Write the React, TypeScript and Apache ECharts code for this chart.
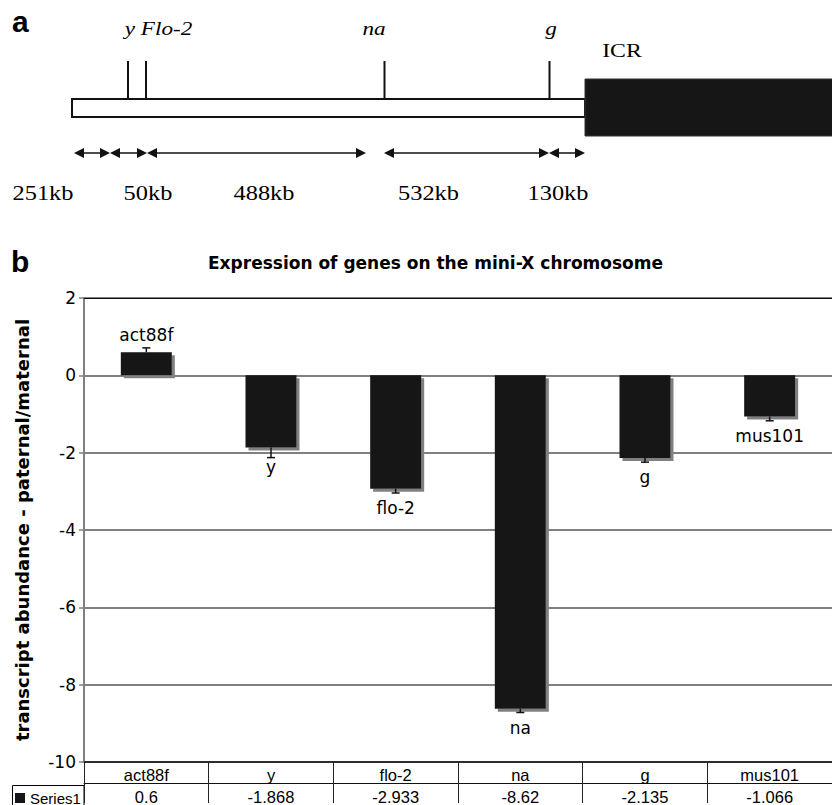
import React, { useEffect, useRef } from "react";
import * as echarts from "echarts";

// ---- data ----
const categories = ["act88f", "y", "flo-2", "na", "g", "mus101"];
const values = [0.6, -1.868, -2.933, -8.62, -2.135, -1.066];
const errors = [0.11, 0.26, 0.11, 0.1, 0.11, 0.11];
const seriesName = "Series1";
const yMin = -10;
const yMax = 2;
const yStep = 2;

// ---- schematic (panel a) ----
const geneLabels = ["y Flo-2", "na", "g"];
const regionLabel = "ICR";
const segmentLabels = ["251kb", "50kb", "488kb", "532kb", "130kb"];

const chartTitle = "Expression of genes on the mini-X chromosome";
const yAxisTitle = "transcript abundance - paternal/maternal";

const SERIF = "'Liberation Serif', 'Times New Roman', serif";
const SANS = "'DejaVu Sans', sans-serif";
const ARIAL = "'Liberation Sans', Arial, sans-serif";

function buildSchematic(): any[] {
  const els: any[] = [];
  const stretch = 1.22;
  // panel letters
  els.push({ type: "text", x: 12, y: 21.6, style: { text: "a", fontSize: 30, fontWeight: "bold", fontFamily: ARIAL, fill: "#000", align: "left", verticalAlign: "middle" } });
  els.push({ type: "text", x: 11, y: 261.6, style: { text: "b", fontSize: 30, fontWeight: "bold", fontFamily: ARIAL, fill: "#000", align: "left", verticalAlign: "middle" } });

  // chromosome bar
  els.push({ type: "rect", shape: { x: 72, y: 99, width: 513, height: 18 }, style: { fill: "#fff", stroke: "#111", lineWidth: 2 } });
  // ICR block
  els.push({ type: "rect", shape: { x: 585, y: 79, width: 250, height: 57 }, style: { fill: "#161616", stroke: "#333", lineWidth: 1 } });
  // gene tick lines
  const ticks = [128, 146, 384.5, 549.5];
  ticks.forEach((tx) => {
    els.push({ type: "line", shape: { x1: tx, y1: 61, x2: tx, y2: 98 }, style: { stroke: "#111", lineWidth: 2 } });
  });
  // gene labels
  const geneX = [158.5, 374, 551];
  geneLabels.forEach((t, i) => {
    els.push({ type: "text", x: geneX[i], y: 28.6, scaleX: stretch, style: { text: t, fontSize: 19, fontStyle: "italic", fontFamily: SERIF, fill: "#000", align: "center", verticalAlign: "middle" } });
  });
  els.push({ type: "text", x: 622, y: 50.5, scaleX: stretch, style: { text: regionLabel, fontSize: 19.5, fontFamily: SERIF, fill: "#000", align: "center", verticalAlign: "middle" } });

  // double arrows
  const segs = [[74, 110], [110, 147], [147, 366], [384, 549], [549, 585]];
  const ay = 153;
  segs.forEach(([x1, x2]) => {
    els.push({ type: "line", shape: { x1: x1 + 6, y1: ay, x2: x2 - 6, y2: ay }, style: { stroke: "#111", lineWidth: 1.5 } });
    els.push({ type: "polygon", shape: { points: [[x1, ay], [x1 + 10, ay - 5], [x1 + 10, ay + 5]] }, style: { fill: "#111" } });
    els.push({ type: "polygon", shape: { points: [[x2, ay], [x2 - 10, ay - 5], [x2 - 10, ay + 5]] }, style: { fill: "#111" } });
  });
  const segX = [43, 148, 264, 428.5, 558];
  segmentLabels.forEach((t, i) => {
    els.push({ type: "text", x: segX[i], y: 193.2, scaleX: stretch, style: { text: t, fontSize: 20, fontFamily: SERIF, fill: "#000", align: "center", verticalAlign: "middle" } });
  });

  // Series1 cell border of the data table
  els.push({ type: "rect", shape: { x: 12.5, y: 785.5, width: 71.5, height: 22 }, style: { fill: "none", stroke: "#000", lineWidth: 1 } });
  return els;
}

export default function App() {
  const ref = useRef<HTMLDivElement>(null);

  useEffect(() => {
    if (!ref.current) return;
    const chart = echarts.init(ref.current, null, { renderer: "svg" });

    const option: any = {
      animation: false,
      backgroundColor: "#fff",
      title: {
        text: chartTitle,
        left: 208,
        top: 254,
        padding: 0,
        textStyle: { fontFamily: SANS, fontSize: 17, fontWeight: "bold", color: "#000" },
      },
      legend: {
        data: [seriesName],
        left: 15,
        top: 790.5,
        padding: 0,
        icon: "rect",
        itemWidth: 10,
        itemHeight: 10,
        itemGap: 5,
        textStyle: { fontFamily: ARIAL, fontSize: 15, color: "#000", padding: [0, 0, 0, 0] },
        selectedMode: false,
      },
      grid: { left: 84, right: 0, top: 298, bottom: 41, containLabel: false },
      xAxis: [
        {
          type: "category",
          data: categories,
          position: "bottom",
          axisLine: { show: true, onZero: false, lineStyle: { color: "#111", width: 1.5 } },
          axisTick: { show: true, alignWithLabel: false, length: 41, lineStyle: { color: "#222", width: 1 } },
          axisLabel: { margin: 4, fontFamily: ARIAL, fontSize: 16.5, color: "#000", interval: 0 },
          splitLine: { show: false },
        },
        {
          type: "category",
          data: values.map((v) => String(v)),
          position: "bottom",
          offset: 21,
          axisLine: { show: true, onZero: false, lineStyle: { color: "#111", width: 1 } },
          axisTick: { show: false },
          axisLabel: { margin: 5, fontFamily: ARIAL, fontSize: 16.5, color: "#000", interval: 0 },
          splitLine: { show: false },
        },
        {
          type: "category",
          data: categories,
          position: "top",
          axisLine: { show: true, onZero: false, lineStyle: { color: "#111", width: 1.2 } },
          axisTick: { show: false },
          axisLabel: { show: false },
          splitLine: { show: false },
        },
      ],
      yAxis: {
        type: "value",
        min: yMin,
        max: yMax,
        interval: yStep,
        name: yAxisTitle,
        nameLocation: "middle",
        nameGap: 53,
        nameTextStyle: { fontFamily: SANS, fontSize: 18, fontWeight: "bold", color: "#000" },
        axisLine: { show: true, onZero: false, lineStyle: { color: "#808080", width: 2 } },
        axisTick: { show: true, inside: false, length: 5, lineStyle: { color: "#808080", width: 1.5 } },
        axisLabel: { margin: 8, fontFamily: SANS, fontSize: 17, color: "#000" },
        splitLine: { show: true, lineStyle: { color: "#808080", width: 2 } },
      },
      graphic: { elements: buildSchematic() },
      series: [
        {
          name: seriesName,
          type: "bar",
          xAxisIndex: 0,
          data: values,
          barWidth: 51,
          itemStyle: {
            color: "#161616",
            shadowColor: "#808080",
            shadowBlur: 0,
            shadowOffsetX: 3,
            shadowOffsetY: 3,
          },
          z: 2,
        },
        {
          name: "errors",
          type: "custom",
          xAxisIndex: 0,
          z: 3,
          encode: { x: 0, y: 1 },
          data: values.map((v, i) => [i, v, errors[i]]),
          renderItem: (params: any, api: any) => {
            const idx = api.value(0);
            const v = api.value(1);
            const e = api.value(2);
            const up = v >= 0;
            const base = api.coord([idx, v]);
            const end = api.coord([idx, up ? v + e : v - e]);
            const x = base[0];
            return {
              type: "group",
              children: [
                { type: "line", shape: { x1: x, y1: base[1], x2: x, y2: end[1] }, style: { stroke: "#111", lineWidth: 1.5 } },
                { type: "line", shape: { x1: x - 4, y1: end[1], x2: x + 4, y2: end[1] }, style: { stroke: "#111", lineWidth: 1.5 } },
                {
                  type: "text",
                  x: x,
                  y: base[1] + (up ? -17 : 19),
                  style: {
                    text: categories[params.dataIndex],
                    fontFamily: SANS,
                    fontSize: 17,
                    fill: "#000",
                    align: "center",
                    verticalAlign: "middle",
                  },
                },
              ],
            };
          },
        },
      ],
    };

    chart.setOption(option);
    return () => {
      chart.dispose();
    };
  }, []);

  return (
    <div
      ref={ref}
      style={{ position: "fixed", left: 0, top: 0, width: 832, height: 805, background: "#fff" }}
    />
  );
}
